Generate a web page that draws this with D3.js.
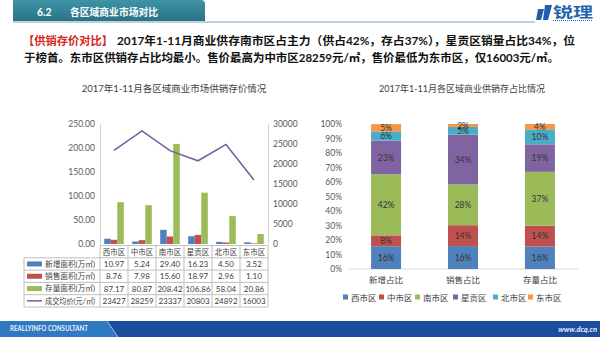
<!DOCTYPE html>
<html><head><meta charset="utf-8">
<script src="https://cdn.jsdelivr.net/npm/d3@7"></script>
<style>
body{margin:0;background:#fff;}
svg{display:block;}
text{font-family:"Lato","Noto Sans CJK SC",sans-serif;}
</style></head>
<body>
<svg id="c" width="600" height="337"></svg>
<script>
// ---------- data ----------
const districts = ["西市区","中市区","南市区","星贡区","北市区","东市区"];
const newArea   = [10.97, 5.24, 29.40, 16.23, 4.50, 3.52];
const soldArea  = [8.76, 7.98, 15.60, 18.97, 2.96, 1.10];
const stockArea = [87.17, 80.87, 208.42, 106.86, 58.04, 20.86];
const avgPrice  = [23427, 28259, 23337, 20803, 24892, 16003];
const seriesNames = ["新增面积(万㎡)","销售面积(万㎡)","存量面积(万㎡)","成交均价(元/㎡)"];
const leftTicks  = [0, 50, 100, 150, 200, 250];
const rightTicks = [0, 5000, 10000, 15000, 20000, 25000, 30000];

const shareCats = ["新增占比","销售占比","存量占比"];
const shareNew   = [15.7, 7.5, 42.1, 23.2, 6.4, 5.0];
const shareSold  = [15.8, 14.4, 28.2, 34.3, 5.3, 2.0];
const shareStock = [15.5, 14.4, 37.1, 19.0, 10.3, 3.7];
const pctTicks = [0,10,20,30,40,50,60,70,80,90,100];

const colors = ["#4F81BD","#C0504D","#9BBB59","#8064A2","#4BACC6","#F79646"];
const lineColor = "#7460A0";

const svg = d3.select("#c");

// ---------- header ----------
const defs = svg.append("defs");
const g1 = defs.append("linearGradient").attr("id","hg").attr("x1",0).attr("y1",0).attr("x2",0).attr("y2",1);
g1.append("stop").attr("offset",0).attr("stop-color","#3f93a6");
g1.append("stop").attr("offset",1).attr("stop-color","#2a7386");
svg.append("path").attr("d","M13,0 H201 Q205,0 205,4 V21 H13 Z").attr("fill","url(#hg)");
svg.append("line").attr("x1",13).attr("x2",535).attr("y1",22).attr("y2",22).attr("stroke","#7b9fcc").attr("stroke-width",1);
svg.append("text").attr("x",37).attr("y",15.5).attr("fill","#fff").attr("font-size",10.5).attr("font-weight","bold")
  .attr("font-family","Noto Sans CJK SC").text("6.2");
svg.append("text").attr("x",70).attr("y",15.5).attr("fill","#fff").attr("font-size",10).attr("font-weight","bold")
  .attr("font-family","Noto Sans CJK SC").attr("textLength",88).attr("lengthAdjust","spacingAndGlyphs").text("各区域商业市场对比");
// logo
svg.append("path").attr("d","M538,9 L544,9 L541,20 L536,20 Z M545,5 L552,5 L548,20 L543,20 Z").attr("fill","#1f5fae");
svg.append("text").attr("x",553).attr("y",17).attr("fill","#2264b0").attr("font-size",14).attr("font-weight","bold")
  .attr("font-family","Noto Sans CJK SC").attr("textLength",40).attr("lengthAdjust","spacingAndGlyphs").text("锐理");
svg.append("line").attr("x1",553).attr("x2",593).attr("y1",20.5).attr("y2",20.5).attr("stroke","#2264b0").attr("stroke-width",1).attr("stroke-dasharray","1,1");

// ---------- paragraph ----------
const pf = "Noto Sans CJK SC";
svg.append("text").attr("x",23).attr("y",45).attr("font-size",11.5).attr("font-weight","bold").attr("font-family",pf)
  .attr("fill","#d7261c").attr("textLength",90).attr("lengthAdjust","spacingAndGlyphs").text("【供销存价对比】");
svg.append("text").attr("x",117).attr("y",45).attr("font-size",11.5).attr("font-weight","bold").attr("font-family",pf)
  .attr("fill","#111").attr("textLength",458).attr("lengthAdjust","spacingAndGlyphs")
  .text("2017年1-11月商业供存南市区占主力（供占42%，存占37%），星贡区销量占比34%，位");
svg.append("text").attr("x",24).attr("y",62).attr("font-size",11.5).attr("font-weight","bold").attr("font-family",pf)
  .attr("fill","#111").attr("textLength",535).attr("lengthAdjust","spacingAndGlyphs")
  .text("于榜首。东市区供销存占比均最小。售价最高为中市区28259元/㎡，售价最低为东市区，仅16003元/㎡。");

// ---------- left chart ----------
const tc = "#404040";
svg.append("text").attr("x",174).attr("y",92).attr("text-anchor","middle").attr("font-size",9.5).attr("fill",tc).text("2017年1-11月各区域商业市场供销存价情况");

const x = d3.scaleBand().domain(districts).range([100,268]);
const yL = d3.scaleLinear().domain([0,250]).range([244,124]);
const yR = d3.scaleLinear().domain([0,30000]).range([244,124]);
const barSeries = [newArea, soldArea, stockArea];
const x1 = d3.scaleBand().domain([0,1,2]).range([x.bandwidth()*0.15, x.bandwidth()*0.85]);

const axL = svg.append("g").attr("transform","translate(100,0)")
  .call(d3.axisLeft(yL).tickValues(leftTicks).tickFormat(d3.format(".2f")).tickSize(0).tickPadding(5));
axL.select(".domain").attr("stroke","#d0d0d0");
axL.selectAll("text").attr("font-size",8.5).attr("fill","#595959").attr("font-family","Lato");
const axR = svg.append("g").attr("transform","translate(268,0)")
  .call(d3.axisRight(yR).tickValues(rightTicks).tickFormat(d3.format("d")).tickSize(0).tickPadding(5));
axR.select(".domain").attr("stroke","#d0d0d0");
axR.selectAll("text").attr("font-size",8.5).attr("fill","#595959").attr("font-family","Lato");

barSeries.forEach((vals,si)=>{
  svg.append("g").selectAll("rect").data(vals).join("rect")
    .attr("x",(d,i)=>x(districts[i])+x1(si))
    .attr("width",x1.bandwidth())
    .attr("y",d=>yL(d))
    .attr("height",d=>yL(0)-yL(d))
    .attr("fill",colors[si]);
});
const line = d3.line().x((d,i)=>x(districts[i])+x.bandwidth()/2).y(d=>yR(d));
svg.append("path").datum(avgPrice).attr("d",line).attr("fill","none").attr("stroke",lineColor).attr("stroke-width",1.6);

// data table
const tTop = 245.5, rh = 12.3, tLeft = 24;
const tg = svg.append("g");
const grid = "#bfbfbf";
tg.append("line").attr("x1",100).attr("x2",268).attr("y1",tTop).attr("y2",tTop).attr("stroke",grid);
for(let r=1;r<=5;r++){
  tg.append("line").attr("x1",tLeft).attr("x2",268).attr("y1",tTop+r*rh).attr("y2",tTop+r*rh).attr("stroke",grid);
}
tg.append("line").attr("x1",tLeft).attr("x2",tLeft).attr("y1",tTop+rh).attr("y2",tTop+5*rh).attr("stroke",grid);
districts.forEach((d,i)=>{
  tg.append("line").attr("x1",x(d)).attr("x2",x(d)).attr("y1",tTop).attr("y2",tTop+5*rh).attr("stroke",grid);
});
tg.append("line").attr("x1",268).attr("x2",268).attr("y1",tTop).attr("y2",tTop+5*rh).attr("stroke",grid);
tg.selectAll("text.cat").data(districts).join("text").attr("class","cat")
  .attr("x",d=>x(d)+x.bandwidth()/2).attr("y",tTop+rh/2+3).attr("text-anchor","middle")
  .attr("font-size",7.5).attr("fill",tc).attr("font-family","Noto Sans CJK SC").text(d=>d);
const rows = [newArea, soldArea, stockArea, avgPrice];
const fmts = [d3.format(".2f"),d3.format(".2f"),d3.format(".2f"),d3.format("d")];
rows.forEach((vals,r)=>{
  const cy = tTop+(r+1)*rh+rh/2;
  tg.selectAll(null).data(vals).join("text")
    .attr("x",(d,i)=>x(districts[i])+x.bandwidth()/2).attr("y",cy+3).attr("text-anchor","middle")
    .attr("font-size",8).attr("fill",tc).text(d=>fmts[r](d));
  if(r<3){
    tg.append("rect").attr("x",27).attr("y",cy-2.5).attr("width",15).attr("height",5).attr("fill",colors[r]);
  } else {
    tg.append("line").attr("x1",27).attr("x2",42).attr("y1",cy).attr("y2",cy).attr("stroke",lineColor).attr("stroke-width",1.5);
  }
  tg.append("text").attr("x",45).attr("y",cy+2.7).attr("font-size",7.5).attr("fill",tc)
    .attr("font-family","Noto Sans CJK SC").attr("textLength",50).attr("lengthAdjust","spacingAndGlyphs").text(seriesNames[r]);
});

// ---------- right chart ----------
svg.append("text").attr("x",462).attr("y",92).attr("text-anchor","middle").attr("font-size",9).attr("fill",tc).text("2017年1-11月各区域商业供销存占比情况");
const xs = d3.scaleBand().domain(shareCats).range([348,578]).paddingInner(0.61).paddingOuter(0.3);
const ys = d3.scaleLinear().domain([0,100]).range([269,124]);
const axP = svg.append("g").attr("transform","translate(348,0)")
  .call(d3.axisLeft(ys).tickValues(pctTicks).tickFormat(d=>d+"%").tickSize(0).tickPadding(6));
axP.select(".domain").remove();
axP.selectAll("text").attr("font-size",8.5).attr("fill","#595959");
svg.append("line").attr("x1",348).attr("x2",578).attr("y1",ys(0)).attr("y2",ys(0)).attr("stroke","#d9d9d9");

const shareRows = [shareNew, shareSold, shareStock].map((arr,ci)=>{
  const o = {cat: shareCats[ci]};
  districts.forEach((d,i)=>o[d]=arr[i]);
  return o;
});
const stacked = d3.stack().keys(districts)(shareRows);
stacked.forEach((layer,li)=>{
  const lg = svg.append("g");
  lg.selectAll("rect").data(layer).join("rect")
    .attr("x",d=>xs(d.data.cat)).attr("width",xs.bandwidth())
    .attr("y",d=>ys(d[1])).attr("height",d=>ys(d[0])-ys(d[1]))
    .attr("fill",colors[li]);
  lg.selectAll("text").data(layer).join("text")
    .attr("x",d=>xs(d.data.cat)+xs.bandwidth()/2)
    .attr("y",d=>(ys(d[0])+ys(d[1]))/2+3.2)
    .attr("text-anchor","middle").attr("font-size",8.5).attr("fill","#333")
    .text(d=>Math.round(d[1]-d[0])+"%");
});
svg.selectAll("text.sc").data(shareCats).join("text").attr("class","sc")
  .attr("x",d=>xs(d)+xs.bandwidth()/2).attr("y",283).attr("text-anchor","middle")
  .attr("font-size",8.5).attr("fill",tc).attr("font-family","Noto Sans CJK SC").text(d=>d);
const legX = [343,379,415,453,493,528];
districts.forEach((d,i)=>{
  svg.append("rect").attr("x",legX[i]).attr("y",294.5).attr("width",5).attr("height",5).attr("fill",colors[i]);
  svg.append("text").attr("x",legX[i]+8).attr("y",300.5).attr("font-size",8.5).attr("fill",tc)
    .attr("font-family","Noto Sans CJK SC").text(d);
});

// ---------- footer ----------
svg.append("rect").attr("x",0).attr("y",321).attr("width",600).attr("height",16).attr("fill","#1b4d9e");
svg.append("path").attr("d","M0,321 H107 L118,337 H0 Z").attr("fill","#2f78c2");
svg.append("line").attr("x1",107).attr("y1",321).attr("x2",118).attr("y2",337).attr("stroke","#9fc0e6").attr("stroke-width",1);
svg.append("text").attr("x",10).attr("y",331).attr("fill","#e8f0fa").attr("font-size",7).attr("font-weight","bold")
  .attr("font-family","DejaVu Sans Condensed").attr("textLength",78).attr("lengthAdjust","spacingAndGlyphs").text("REALLYINFO CONSULTANT");
svg.append("text").attr("x",597).attr("y",331.5).attr("text-anchor","end").attr("fill","#e8f0fa").attr("font-size",7.5)
  .attr("font-style","italic").attr("font-weight","bold").attr("font-family","DejaVu Sans").text("www.dcq.cn");
</script>
</body></html>
